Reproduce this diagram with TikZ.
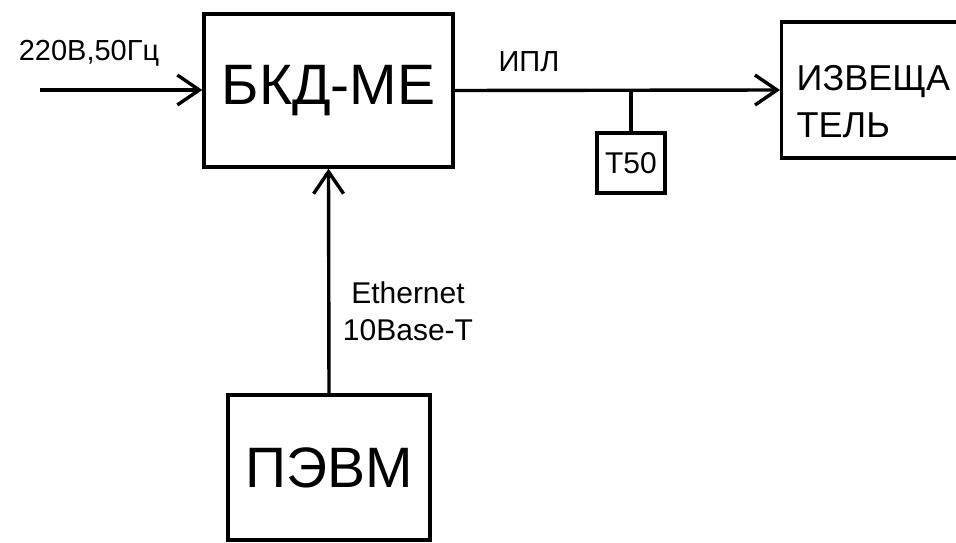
\documentclass[tikz,border=0pt]{standalone}
\usepackage{fontspec}
\setmainfont{Liberation Sans}
\usetikzlibrary{arrows.meta, positioning, calc}

\begin{document}
\begin{tikzpicture}[
  x=1pt, y=-1pt,
  blk/.style={draw, line width=3.4pt, inner sep=0pt},
  lbl/.style={font=\fontsize{29}{36}\selectfont, inner sep=0pt},
  wire/.style={line width=3.4pt},
  >={Straight Barb[length=22pt, width=30pt, line width=3.4pt]}
]
  \useasboundingbox (0,0) rectangle (956,543);

  % Blocks
  \node[blk, minimum width=249pt, minimum height=153pt,
    font=\fontsize{57}{60}\selectfont] (bkd) at (328.5, 90.5) {БКД-МЕ};
  \node[blk, minimum height=136pt, text width=200pt, inner xsep=15pt,
    align=left, font=\fontsize{36}{47}\selectfont, anchor=west] (izv) at (780, 90)
    {\rule{0pt}{48pt}ИЗВЕЩА\\ТЕЛЬ};
  \node[blk, minimum width=68pt, minimum height=60pt,
    font=\fontsize{30}{36}\selectfont] (t50) at (631, 163) {T50};
  \node[blk, minimum width=202pt, minimum height=145pt,
    font=\fontsize{57}{60}\selectfont] (pevm) at (329, 467.5) {ПЭВМ};

  % Connectors
  \coordinate (mains) at (40, 90);
  \coordinate (tap) at (t50.north |- bkd.east);
  \draw[wire, ->] (mains) -- (bkd.west |- mains);
  \draw[wire, ->] (bkd.east) -- (izv.west);
  \draw[wire] (tap) -- (t50.north);
  \draw[wire, ->] (pevm.north) -- (bkd.south);

  % Labels
  \node[lbl, anchor=base] (power) at (89, 61) {220В,50Гц};
  \node[lbl, anchor=base] (ipl) at (529, 72) {ИПЛ};
  \node[lbl, align=center, font=\fontsize{30}{37}\selectfont] (eth) at (408, 311)
    {Ethernet\\10Base-T};
\end{tikzpicture}
\end{document}
